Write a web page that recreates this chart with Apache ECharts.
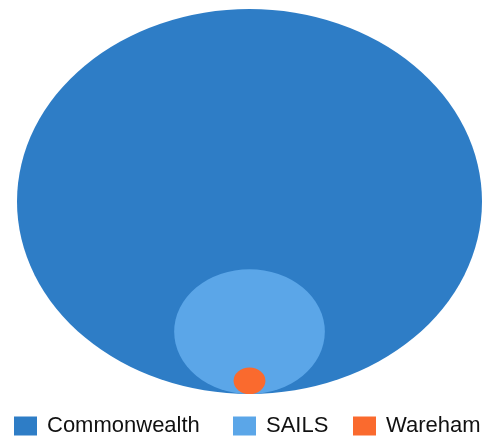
<!DOCTYPE html>
<html>
<head>
<meta charset="utf-8">
<script src="https://cdn.jsdelivr.net/npm/echarts@6/dist/echarts.min.js"></script>
<style>html,body{margin:0;padding:0;background:#fff}#c{width:486px;height:436px}</style>
</head>
<body>
<div id="c"></div>
<script>
const names = ['Commonwealth', 'SAILS', 'Wareham'];
const values = [100000, 10500, 470];
const colors = ['#2e7dc6', '#5ba6e8', '#fa6a2e'];

const vmax = Math.max.apply(null, values);
const chart = echarts.init(document.getElementById('c'), null, {renderer: 'canvas'});

function renderItem(params, api) {
  const r = api.value(1);
  const c = api.coord([0, r]);
  const s = api.size([r, r]);
  return {
    type: 'circle',
    x: c[0], y: c[1],
    scaleX: s[0] / s[1],
    shape: {cx: 0, cy: 0, r: s[1]},
    style: {fill: api.visual('color')}
  };
}

const series = names.map((n, i) => ({
  type: 'custom',
  name: n,
  coordinateSystem: 'cartesian2d',
  renderItem: renderItem,
  itemStyle: {color: colors[i]},
  z: 2 + i,
  data: [[values[i], Math.sqrt(values[i] / vmax)]],
  encode: {x: 0, y: 1}
}));

const legendLefts = [14, 233, 353];
const legends = names.map((n, i) => ({
  data: [n],
  left: legendLefts[i],
  top: 415,
  padding: 0,
  itemWidth: 23,
  itemHeight: 19,
  itemGap: 10,
  icon: 'rect',
  selectedMode: false,
  textStyle: {fontFamily: 'Liberation Sans, Arial, sans-serif', fontSize: 22, color: '#111', padding: [0, 0, 0, 5]}
}));

chart.setOption({
  animation: false,
  grid: {left: 17, right: 4, top: 9, bottom: 42},
  xAxis: {type: 'value', min: -1, max: 1, show: false},
  yAxis: {type: 'value', min: 0, max: 2, show: false},
  legend: legends,
  series: series
});
</script>
</body>
</html>
